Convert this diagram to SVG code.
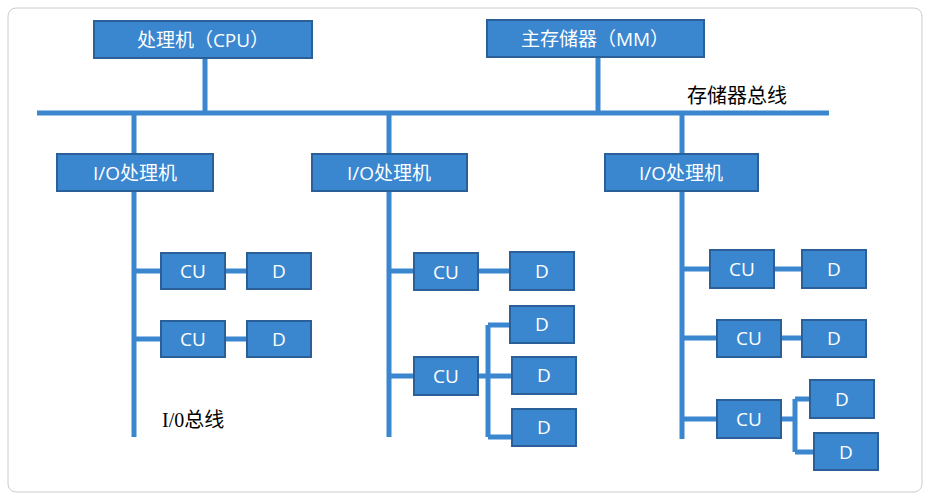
<svg xmlns="http://www.w3.org/2000/svg" width="930" height="500" viewBox="0 0 930 500">
<style>
.b{fill:#3a87d0;stroke:#2a5f97;stroke-width:2}
.t{fill:#fff;font-family:"Open Sans","Noto Sans CJK SC",sans-serif;font-size:19px;text-anchor:middle;dominant-baseline:central}
.l{stroke:#3a87d0;stroke-width:5;fill:none}
.s{fill:#000;font-family:"Liberation Serif","Noto Sans CJK SC",serif;font-size:20px}
</style>
<rect x="8" y="8" width="914" height="484" rx="8" fill="#fff" stroke="#ccc"/>
<g id="connectors">
<path class="l" d="M37 113H829M205 58V113M598 57V113M134 113V437M389 113V437M682 113V439"/>
<path class="l" d="M134 271H161M225 271H247M134 339H161M225 339H247"/>
<path class="l" d="M389 271H414M478 271H510M389 376H414M478 376H512M488 325V437M488 325H510M488 437H512"/>
<path class="l" d="M682 269H710M774 269H802M682 338H717M781 338H802M682 419H717M781 419H795M795 399V452M795 399H810M795 452H814"/>
</g>
<g id="cpu"><rect class="b" x="94" y="21" width="218" height="37"/><text class="t" x="203" y="40">处理机（CPU）</text></g>
<g id="mm"><rect class="b" x="487" y="20" width="217" height="37"/><text class="t" x="595" y="39">主存储器（MM）</text></g>
<text class="s" x="687" y="103">存储器总线</text>
<g id="io1"><rect class="b" x="57" y="154" width="156" height="37"/><text class="t" x="135" y="173">I/O处理机</text></g>
<g id="io2"><rect class="b" x="312" y="154" width="155" height="37"/><text class="t" x="389" y="173">I/O处理机</text></g>
<g id="io3"><rect class="b" x="605" y="154" width="153" height="37"/><text class="t" x="681" y="173">I/O处理机</text></g>
<g id="cu1"><rect class="b" x="161" y="253" width="64" height="36"/><text class="t" x="193" y="271">CU</text></g>
<g id="d1"><rect class="b" x="247" y="253" width="64" height="36"/><text class="t" x="279" y="271">D</text></g>
<g id="cu2"><rect class="b" x="161" y="321" width="64" height="36"/><text class="t" x="193" y="339">CU</text></g>
<g id="d2"><rect class="b" x="247" y="321" width="64" height="36"/><text class="t" x="279" y="339">D</text></g>
<text class="s" x="162" y="427">I/0总线</text>
<g id="cu3"><rect class="b" x="414" y="253" width="64" height="37"/><text class="t" x="446" y="272">CU</text></g>
<g id="d3"><rect class="b" x="510" y="252" width="64" height="38"/><text class="t" x="542" y="271">D</text></g>
<g id="cu4"><rect class="b" x="414" y="357" width="64" height="38"/><text class="t" x="446" y="376">CU</text></g>
<g id="d4"><rect class="b" x="510" y="306" width="64" height="37"/><text class="t" x="542" y="324">D</text></g>
<g id="d5"><rect class="b" x="512" y="357" width="64" height="37"/><text class="t" x="544" y="375">D</text></g>
<g id="d6"><rect class="b" x="512" y="409" width="64" height="37"/><text class="t" x="544" y="427">D</text></g>
<g id="cu5"><rect class="b" x="710" y="250" width="64" height="38"/><text class="t" x="742" y="269">CU</text></g>
<g id="d7"><rect class="b" x="802" y="250" width="64" height="38"/><text class="t" x="834" y="269">D</text></g>
<g id="cu6"><rect class="b" x="717" y="320" width="64" height="37"/><text class="t" x="749" y="338">CU</text></g>
<g id="d8"><rect class="b" x="802" y="320" width="64" height="37"/><text class="t" x="834" y="338">D</text></g>
<g id="cu7"><rect class="b" x="717" y="400" width="64" height="38"/><text class="t" x="749" y="419">CU</text></g>
<g id="d9"><rect class="b" x="810" y="380" width="64" height="38"/><text class="t" x="842" y="399">D</text></g>
<g id="d10"><rect class="b" x="814" y="433" width="64" height="37"/><text class="t" x="846" y="452">D</text></g>
</svg>
